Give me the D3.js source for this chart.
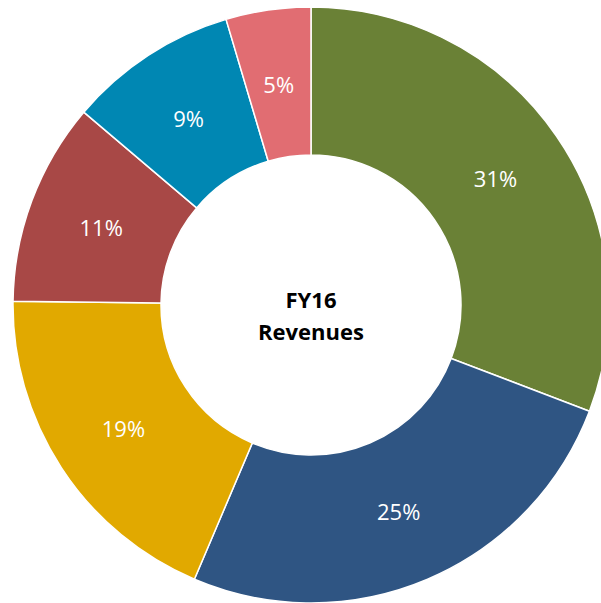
<!DOCTYPE html>
<html>
<head>
<meta charset="utf-8">
<script src="https://cdn.jsdelivr.net/npm/d3@7"></script>
<style>
  html, body { margin: 0; padding: 0; background: #ffffff; overflow: hidden; }
  svg { display: block; }
</style>
</head>
<body>
<script>
// Data
const categories = ["Segment A", "Segment B", "Segment C", "Segment D", "Segment E", "Segment F"];
const values = [30.8, 25.6, 18.8, 11.0, 9.2, 4.6];
const labels = ["31%", "25%", "19%", "11%", "9%", "5%"];
const colors = ["#6a8136", "#2f5583", "#e1a900", "#a84846", "#0087b3", "#e16d72"];
const centerLines = ["FY16", "Revenues"];

const W = 601, H = 603;
const cx = 311, cy = 305, outerR = 298, innerR = 150;

const svg = d3.select("body").append("svg").attr("width", W).attr("height", H);
const g = svg.append("g").attr("transform", `translate(${cx},${cy})`);

const data = categories.map((c, i) => ({ c, v: values[i], label: labels[i], color: colors[i] }));
const pie = d3.pie().value(d => d.v).sort(null);
const arc = d3.arc().innerRadius(innerR).outerRadius(outerR);
const arcs = pie(data);

g.selectAll("path.slice").data(arcs).join("path")
  .attr("class", "slice")
  .attr("d", arc)
  .attr("fill", d => d.data.color)
  .attr("stroke", "#ffffff")
  .attr("stroke-width", 1.5)
  .attr("stroke-linejoin", "miter");

g.selectAll("text.lbl").data(arcs).join("text")
  .attr("class", "lbl")
  .attr("transform", d => `translate(${arc.centroid(d)})`)
  .attr("text-anchor", "middle")
  .attr("dy", "0.42em")
  .attr("fill", "#ffffff")
  .attr("font-family", "'Open Sans', sans-serif")
  .attr("font-size", 22)
  .text(d => d.data.label);

const ct = g.append("text")
  .attr("text-anchor", "middle")
  .attr("font-family", "'Open Sans', sans-serif")
  .attr("font-weight", "bold")
  .attr("font-size", 22)
  .attr("fill", "#000000");
ct.selectAll("tspan").data(centerLines).join("tspan")
  .attr("x", 0)
  .attr("y", (d, i) => 3 + i * 32)
  .text(d => d);
</script>
</body>
</html>
